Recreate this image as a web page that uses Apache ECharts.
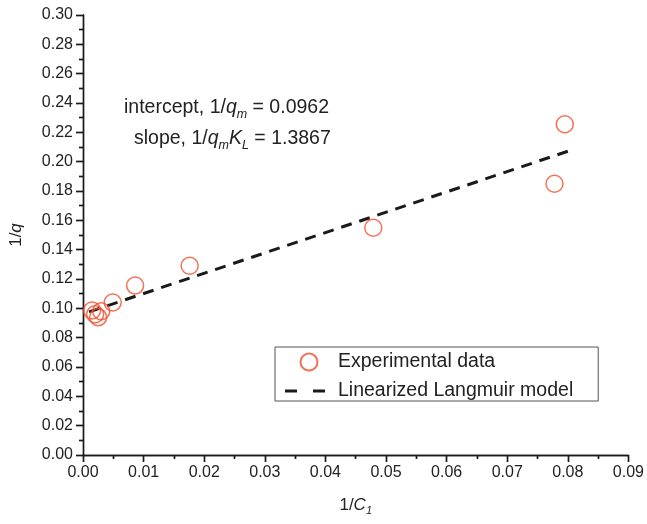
<!DOCTYPE html>
<html>
<head>
<meta charset="utf-8">
<script src="https://cdn.jsdelivr.net/npm/echarts@6/dist/echarts.min.js"></script>
<style>html,body{margin:0;padding:0;background:#fff}#c{width:647px;height:524px}</style>
</head>
<body>
<div id="c"></div>
<script>
var expX = [0.0015, 0.0020, 0.0025, 0.0030, 0.0049, 0.0086, 0.0176, 0.0479, 0.0778, 0.0795];
var expY = [0.0985, 0.0960, 0.0940, 0.0980, 0.1040, 0.1155, 0.1290, 0.1550, 0.1850, 0.2255];
var fitX = [0.0010, 0.0800];
var fitY = [0.0976, 0.2071];
var xTicks = ['0.00','0.01','0.02','0.03','0.04','0.05','0.06','0.07','0.08','0.09'];
var yTicks = ['0.00','0.02','0.04','0.06','0.08','0.10','0.12','0.14','0.16','0.18','0.20','0.22','0.24','0.26','0.28','0.30'];

var FONT = '"Liberation Sans", Arial, sans-serif';
var chart = echarts.init(document.getElementById('c'), null, {renderer: 'canvas'});
var axisLine = {show: true, lineStyle: {color: '#1a1a1a', width: 1.4}};
var baseAxis = {
  type: 'value', axisLine: axisLine, splitLine: {show: false},
  axisTick: {show: true, inside: false, length: 7, lineStyle: {color: '#1a1a1a', width: 1.4}},
  minorTick: {show: true, splitNumber: 2, length: 4, lineStyle: {color: '#1a1a1a', width: 1.4}}
};
function ax(o) { return Object.assign({}, baseAxis, o); }
var innerTick = {show: true, inside: true, length: 7, lineStyle: {color: '#1a1a1a', width: 1.4}};
var innerMinor = {show: true, splitNumber: 2, length: 4, lineStyle: {color: '#1a1a1a', width: 1.4}};

chart.setOption({
  animation: false,
  textStyle: {fontFamily: FONT},
  grid: {left: 83, right: 18, top: 15, bottom: 69, containLabel: false},
  xAxis: [
    ax({position: 'bottom', min: 0, max: 0.09, interval: 0.01,
      axisLabel: {color: '#222', fontSize: 16, margin: 10, fontFamily: FONT,
        formatter: function (v) { return xTicks[Math.round(v / 0.01)]; }},
      name: '{n|1/}{i|C}{s|1}', nameLocation: 'middle', nameGap: 40,
      nameTextStyle: {rich: {
        n: {fontSize: 17, color: '#222', fontFamily: FONT},
        i: {fontSize: 17, color: '#222', fontStyle: 'italic', fontFamily: FONT},
        s: {fontSize: 11, color: '#222', fontStyle: 'italic', fontFamily: FONT, padding: [10, 0, 0, 0]}
      }}
    }),
    ax({position: 'top', min: 0, max: 0.09, interval: 0.01, axisLabel: {show: false},
      axisTick: innerTick, minorTick: innerMinor})
  ],
  yAxis: [
    ax({position: 'left', min: 0, max: 0.30, interval: 0.02,
      axisLabel: {color: '#222', fontSize: 16, margin: 10, fontFamily: FONT,
        formatter: function (v) { return yTicks[Math.round(v / 0.02)]; }},
      name: '{n|1/}{i|q}', nameLocation: 'middle', nameGap: 58, nameRotate: 90,
      nameTextStyle: {rich: {
        n: {fontSize: 17, color: '#222', fontFamily: FONT},
        i: {fontSize: 17, color: '#222', fontStyle: 'italic', fontFamily: FONT}
      }}
    }),
    ax({position: 'right', min: 0, max: 0.30, interval: 0.02, axisLabel: {show: false},
      axisTick: innerTick, minorTick: innerMinor})
  ],
  legend: {
    left: 275, top: 347, width: 323, orient: 'vertical',
    borderColor: '#555', borderWidth: 1, padding: [5, 25, 0, 10], itemGap: 9,
    itemWidth: 48, itemHeight: 17,
    textStyle: {fontSize: 19.5, color: '#222', fontFamily: FONT},
    data: [
      {name: 'Experimental data'},
      {name: 'Linearized Langmuir model',
        icon: 'path://M0,0M48,17M0,7h12v3h-12zM28,7h12v3h-12z',
        itemStyle: {color: '#1a1a1a', borderWidth: 0}}
    ]
  },
  series: [
    {
      name: 'Experimental data', type: 'scatter', symbol: 'circle', symbolSize: 17,
      xAxisIndex: 0, yAxisIndex: 0,
      itemStyle: {color: 'rgba(255,255,255,0)', borderColor: '#f04e2c', borderWidth: 1.5},
      data: expX.map(function (x, i) { return [x, expY[i]]; }), z: 3
    },
    {
      name: 'Linearized Langmuir model', type: 'line', symbol: 'none',
      xAxisIndex: 0, yAxisIndex: 0,
      lineStyle: {color: '#1a1a1a', width: 3, type: [11, 8]},
      itemStyle: {color: '#1a1a1a'},
      data: fitX.map(function (x, i) { return [x, fitY[i]]; }), z: 2
    }
  ],
  graphic: [
    {type: 'text', left: 124, top: 98, style: {
      text: '{a|intercept, 1/}{i|q}{s|m}{a| = 0.0962}',
      rich: {
        a: {fontSize: 19.5, fill: '#222', fontFamily: FONT},
        i: {fontSize: 19.5, fill: '#222', fontStyle: 'italic', fontFamily: FONT},
        s: {fontSize: 12.5, fill: '#222', fontStyle: 'italic', fontFamily: FONT, padding: [13, 0, 0, 0]}
      }}},
    {type: 'text', left: 134, top: 129, style: {
      text: '{a|slope, 1/}{i|q}{s|m}{i|K}{s|L}{a| = 1.3867}',
      rich: {
        a: {fontSize: 19.5, fill: '#222', fontFamily: FONT},
        i: {fontSize: 19.5, fill: '#222', fontStyle: 'italic', fontFamily: FONT},
        s: {fontSize: 12.5, fill: '#222', fontStyle: 'italic', fontFamily: FONT, padding: [13, 0, 0, 0]}
      }}}
  ]
});
</script>
</body>
</html>
